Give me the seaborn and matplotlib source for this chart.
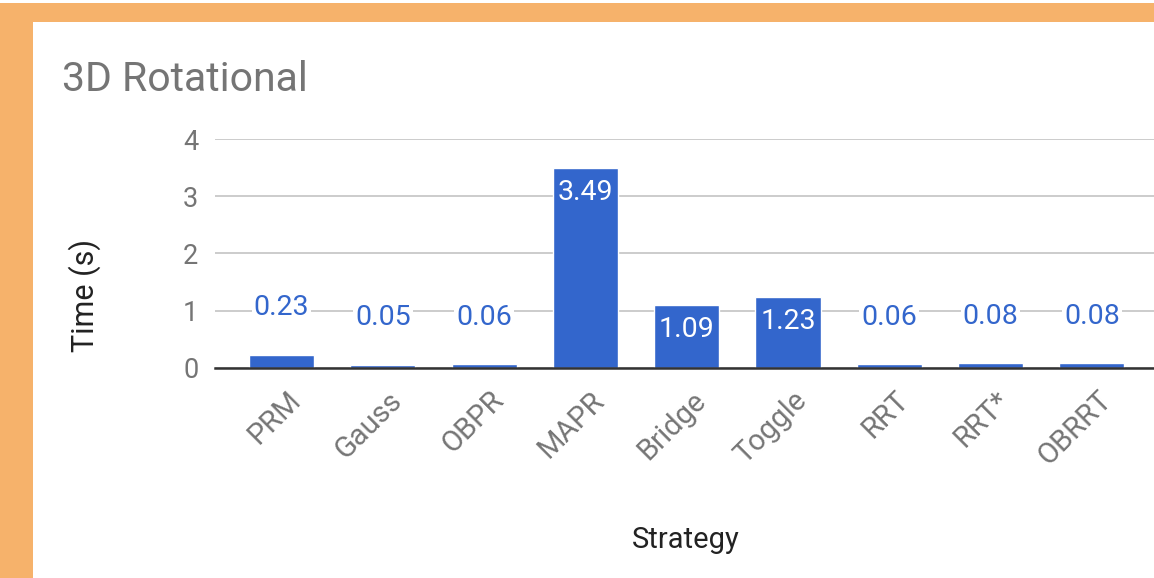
import matplotlib
matplotlib.use("Agg")
import matplotlib.pyplot as plt
import matplotlib.transforms as mtransforms
from matplotlib.patches import Rectangle
import pandas as pd
import seaborn as sns

# ── data ─────────────────────────────────────────────────────────────────────
strategies = ["PRM", "Gauss", "OBPR", "MAPR", "Bridge", "Toggle", "RRT", "RRT*", "OBRRT"]
times      = [0.23, 0.05, 0.06, 3.49, 1.09, 1.23, 0.06, 0.08, 0.08]
y_ticks    = [0, 1, 2, 3, 4]

BAR_BLUE = "#3366CC"
ORANGE   = "#F6B26B"
GREY     = "#757575"

sns.set_style("white")
plt.rcParams["font.family"] = ["Roboto", "DejaVu Sans"]

df = pd.DataFrame({"Strategy": strategies, "Time": times})

W, H = 1154, 578
fig = plt.figure(figsize=(W / 100, H / 100), dpi=100, facecolor=ORANGE)
# white card behind the chart
fig.patches.append(Rectangle((33 / W, 0), 1 - 33 / W, 1 - 22 / H,
                             transform=fig.transFigure, facecolor="white",
                             edgecolor="none", zorder=-5))
fig.patches.append(Rectangle((0, 1 - 3 / H), 1, 3 / H, transform=fig.transFigure,
                             facecolor="white", edgecolor="none", zorder=-5))

ax = fig.add_axes([215 / W, 1 - 367.7 / H, (W - 215) / W, (367.7 - 139) / H])
ax.set_facecolor("none")
ax.set_zorder(2)

sns.barplot(data=df, x="Strategy", y="Time", color=BAR_BLUE, saturation=1,
            width=0.642, ax=ax, zorder=3)

ax.set_xlim(-0.6565, 8.613)
ax.set_ylim(0, 4)
ax.set_yticks(y_ticks)
ax.yaxis.grid(True, color="#CCCCCC", linewidth=1.4, zorder=0)
ax.set_axisbelow(True)
for s in ["top", "right", "left"]:
    ax.spines[s].set_visible(False)
ax.spines["bottom"].set_color("#333333")
ax.spines["bottom"].set_linewidth(1.8)
ax.spines["bottom"].set_zorder(5)
ax.tick_params(axis="both", length=0)
ax.tick_params(axis="y", labelsize=19.5, labelcolor=GREY, pad=12)
ax.tick_params(axis="x", labelsize=21, labelcolor=GREY, pad=4)

plt.setp(ax.get_xticklabels(), rotation=45, ha="right", rotation_mode="anchor")
offset = mtransforms.ScaledTranslation(5 / 100, -13 / 100, fig.dpi_scale_trans)
for lbl in ax.get_xticklabels():
    lbl.set_transform(lbl.get_transform() + offset)

ax.set_xlabel("")
ax.set_ylabel("Time (s)", fontsize=22, color="#222222", va="center")
ax.yaxis.set_label_coords((85 - 215) / (W - 215), (367.7 - 296) / (367.7 - 139))

# value labels
for i, v in enumerate(times):
    if v > 1.0:
        ax.annotate(f"{v:.2f}", (i, v), xytext=(0, -8), textcoords="offset points",
                    ha="center", va="top", fontsize=20.5, color="white", zorder=6)
    else:
        ax.annotate(f"{v:.2f}", (i, v), xytext=(0, 28.5), textcoords="offset points",
                    ha="center", va="baseline", fontsize=20.5, color=BAR_BLUE, zorder=6,
                    bbox=dict(facecolor="white", edgecolor="none", pad=1.5))

fig.text(62 / W, 1 - 91 / H, "3D Rotational", fontsize=29.5, color=GREY,
         ha="left", va="baseline")
fig.text(686 / W, 1 - 540 / H, "Strategy", fontsize=21, color="#222222",
         ha="center", va="center")

fig.savefig("out.png", dpi=100, facecolor=fig.get_facecolor())
